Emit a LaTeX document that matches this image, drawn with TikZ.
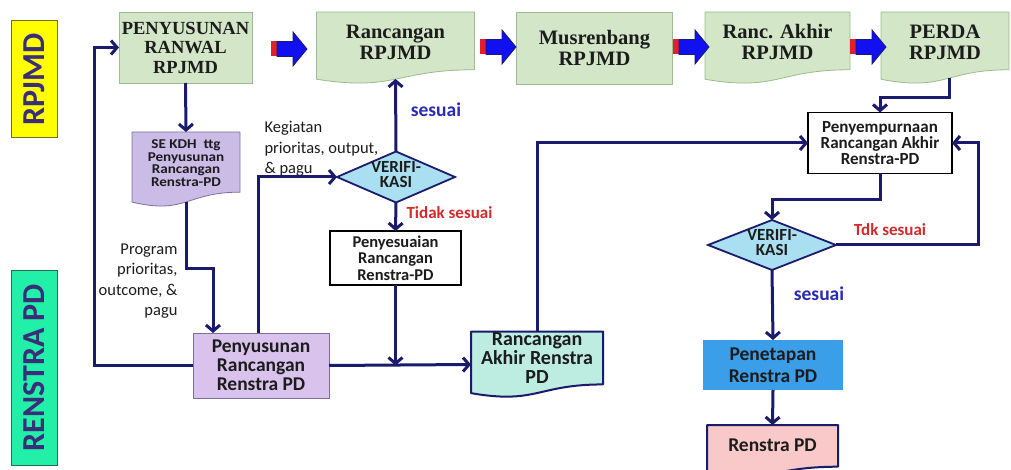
\documentclass[tikz,border=0pt]{standalone}
\usepackage{fontspec}
\setmainfont{Carlito}
\newfontfamily\camb{Liberation Serif}
\usetikzlibrary{arrows.meta,calc,shapes.geometric,backgrounds}
\pgfdeclarelayer{bottom}
\pgfsetlayers{bottom,background,main}
\definecolor{navy}{HTML}{1B1B6E}
\definecolor{txt}{HTML}{1C1C1C}
\definecolor{topgreen}{HTML}{D3E6C8}
\definecolor{topborder}{HTML}{9DBB8C}
\definecolor{purpA}{HTML}{CBBCE7}
\definecolor{purpB}{HTML}{D9C3EC}
\definecolor{purpborder}{HTML}{7D6E9E}
\definecolor{aqua}{HTML}{BDEDE1}
\definecolor{pinkc}{HTML}{F9C9C9}
\definecolor{bluebox}{HTML}{3A9FE8}
\definecolor{diafill}{HTML}{A9DFF0}
\definecolor{yel}{HTML}{FFFF00}
\definecolor{yelborder}{HTML}{7A6A30}
\definecolor{grn}{HTML}{22F0A8}
\definecolor{grnborder}{HTML}{2A6A50}
\definecolor{lbltxt}{HTML}{3A2D7A}
\definecolor{okblue}{HTML}{2A2AB8}
\definecolor{nored}{HTML}{D42A2A}
\definecolor{arrred}{HTML}{E0202A}
\definecolor{arrblue}{HTML}{1010F0}
\newcommand{\docpath}[4]{%
  \begin{pgfonlayer}{background}
    \filldraw[fill=#2, draw=#3, line width=#4, line join=round]
      (#1.north west) -- (#1.north east) -- ($(#1.north east)!0.802!(#1.south east)$)
      .. controls ($(#1.north)!0.802!(#1.south)$) and ($(#1.north)!1.107!(#1.south)$)
      .. ($(#1.north west)!0.934!(#1.south west)$) -- cycle;
  \end{pgfonlayer}}
\newcommand{\bigarrow}[1]{%
  \begin{scope}[shift={#1}]
    \fill[arrred] (0,-7.5) rectangle (6,7.5);
    \filldraw[fill=arrblue, draw=navy, line width=0.8pt, line join=miter]
      (6,-7.5) -- (22,-7.5) -- (22,-17) -- (36,0) -- (22,17) -- (22,7.5) -- (6,7.5) -- cycle;
  \end{scope}}
\tikzset{
  conn/.style={draw=navy, line width=3pt, -{Straight Barb[length=6pt,width=14pt]}},
  shp/.style={inner sep=0pt, outer sep=0pt},
  topbox/.style={shp, draw=topborder, fill=topgreen, line width=0.8pt, align=center,
    font=\camb\bfseries\fontsize{20.5}{21}\selectfont, text=txt},
  toptext/.style={align=center, font=\camb\bfseries\fontsize{20.5}{21}\selectfont, text=txt},
  sidelbl/.style={shp, rotate=90, line width=1pt, font=\bfseries\fontsize{32}{32}\selectfont, text=lbltxt},
  note/.style={align=left, font=\fontsize{16.5}{20.5}\selectfont, text=txt},
  dia/.style={shp, diamond, draw=navy, fill=diafill, line width=1.8pt},
  diatext/.style={align=center, font=\bfseries\fontsize{17}{15}\selectfont, text=txt},
  okl/.style={font=\bfseries\fontsize{19.5}{20}\selectfont, text=okblue},
  nol/.style={font=\bfseries\fontsize{17}{18}\selectfont, text=nored},
}
\begin{document}
\begin{tikzpicture}[x=1pt,y=-1pt]
\useasboundingbox (0,0) rectangle (1011,470);
\begin{pgfonlayer}{bottom}
\fill[white] (0,0) rectangle (1011,470);
\end{pgfonlayer}

% side labels
\node[sidelbl, fill=yel, draw=yelborder, minimum width=117pt, minimum height=46pt] (lrpjmd) at (34,79.5) {RPJMD};
\node[sidelbl, fill=grn, draw=grnborder, minimum width=195pt, minimum height=46pt] (lrenstra) at (34,367.5) {RENSTRA PD};

% top row
\node[topbox, minimum width=133pt, minimum height=71pt, font=\camb\bfseries\fontsize{18.5}{19.5}\selectfont] (ranwal) at (185.5,47.5) {PENYUSUNAN\\RANWAL\\RPJMD};
\node[shp, minimum width=158pt, minimum height=72pt] (rr) at (395.5,48) {};
\docpath{rr}{topgreen}{topborder}{0.8pt}
\node[toptext] (rrt) at (395.5,42) {Rancangan\\RPJMD};
\node[topbox, minimum width=156pt, minimum height=72pt] (mus) at (594.5,48) {Musrenbang\\RPJMD};
\node[shp, minimum width=145pt, minimum height=72pt] (ra) at (777.5,48) {};
\docpath{ra}{topgreen}{topborder}{0.8pt}
\node[toptext] (rat) at (777.5,42) {Ranc. Akhir\\RPJMD};
\node[shp, minimum width=128pt, minimum height=72pt] (perda) at (945,48) {};
\docpath{perda}{topgreen}{topborder}{0.8pt}
\node[toptext] (perdat) at (945,42) {PERDA\\RPJMD};

\bigarrow{(271,49)}
\bigarrow{(480,47)}
\bigarrow{(673,47)}
\bigarrow{(850,47)}

% left column
\node[shp, minimum width=108pt, minimum height=75pt] (sekdh) at (186,169.5) {};
\docpath{sekdh}{purpA}{purpborder}{0.8pt}
\node[align=center, xscale=1.12, font=\bfseries\fontsize{13.5}{12.5}\selectfont, text=txt] (sekdht) at (186,163) {SE KDH\ \ ttg\\Penyusunan\\Rancangan\\Renstra-PD};

\node[shp, draw=purpborder, fill=purpB, line width=0.8pt, minimum width=136pt, minimum height=65pt,
  align=center, font=\bfseries\fontsize{19.5}{19}\selectfont, text=txt] (pen) at (261,365.5) {Penyusunan\\Rancangan\\Renstra PD};

\node[note, align=right, anchor=east] (prog) at (181,281) {Program\\prioritas,\\outcome, \&\\pagu};
\node[note, anchor=west] (keg) at (261,149) {Kegiatan\\prioritas, output,\\\& pagu};

\node[dia, minimum width=118pt, minimum height=51pt] (ver1) at (396,177) {};
\node[diatext] (ver1t) at (396,175) {VERIFI-\\KASI};
\node[okl] (ok1) at (436,110) {sesuai};
\node[nol] (no1) at (449.5,213) {Tidak sesuai};

\node[shp, draw=black, fill=white, line width=1.2pt, minimum width=131pt, minimum height=54pt,
  align=center, font=\bfseries\fontsize{16.5}{16.5}\selectfont, text=txt] (pny) at (395.5,258) {Penyesuaian\\Rancangan\\Renstra-PD};

\node[shp, minimum width=132pt, minimum height=66pt] (rak) at (537,364.5) {};
\docpath{rak}{aqua}{navy}{2pt}
\node[align=center, font=\bfseries\fontsize{20}{19}\selectfont, text=txt] (rakt) at (537,358.5) {Rancangan\\Akhir Renstra\\PD};

% right column
\node[shp, draw=black, fill=white, line width=1.2pt, minimum width=144pt, minimum height=61pt,
  align=center, font=\bfseries\fontsize{17}{16}\selectfont, text=txt] (psp) at (880,143) {Penyempurnaan\\Rancangan Akhir\\Renstra-PD};

\node[dia, minimum width=128pt, minimum height=50pt] (ver2) at (772,245) {};
\node[diatext] (ver2t) at (772,243) {VERIFI-\\KASI};
\node[nol] (no2) at (890,230) {Tdk sesuai};
\node[okl] (ok2) at (819,294) {sesuai};

\node[shp, fill=bluebox, minimum width=140pt, minimum height=50pt,
  align=center, font=\bfseries\fontsize{19.5}{22}\selectfont, text=txt] (pset) at (773,365) {Penetapan\\Renstra PD};

\node[shp, minimum width=131pt, minimum height=52pt] (rpd) at (772.5,451) {};
\docpath{rpd}{pinkc}{navy}{2pt}
\node[font=\bfseries\fontsize{19.5}{20}\selectfont, text=txt] (rpdt) at (772.5,445) {Renstra PD};

% connectors
\draw[conn] (ranwal.south) -- (sekdh.north);
\draw[conn] ($(sekdh.north)!0.93!(sekdh.south)$) |- (213,268) -- ($(pen.north west)+(20,0)$);
\draw[conn] (pen.west) -- (94,365.5) |- (ranwal.west);
\draw[conn] ($(pen.north)+(-3,0)$) |- (ver1.west);
\draw[conn] (ver1.north) -- ($(rr.north)!0.93!(rr.south)$);
\draw[conn] (ver1.south) -- (pny.north);
\draw[conn] (pny.south) -- (pny.south |- pen.east);
\draw[conn] (pen.east) -- (rak.west);
\draw[conn] (rak.north) |- (psp.west);
\draw[conn] ($(perda.north)!0.92!(perda.south)+(4,0)$) |- ($(psp.north)+(0,-15)$) -- (psp.north);
\draw[conn] (psp.south) |- ($(ver2.north)+(0,-20)$) -- (ver2.north);
\draw[conn] (ver2.east) -- (978,245) |- (psp.east);
\draw[conn] (ver2.south) -- (pset.north);
\draw[conn] (pset.south) -- (rpd.north);
\end{tikzpicture}
\end{document}
